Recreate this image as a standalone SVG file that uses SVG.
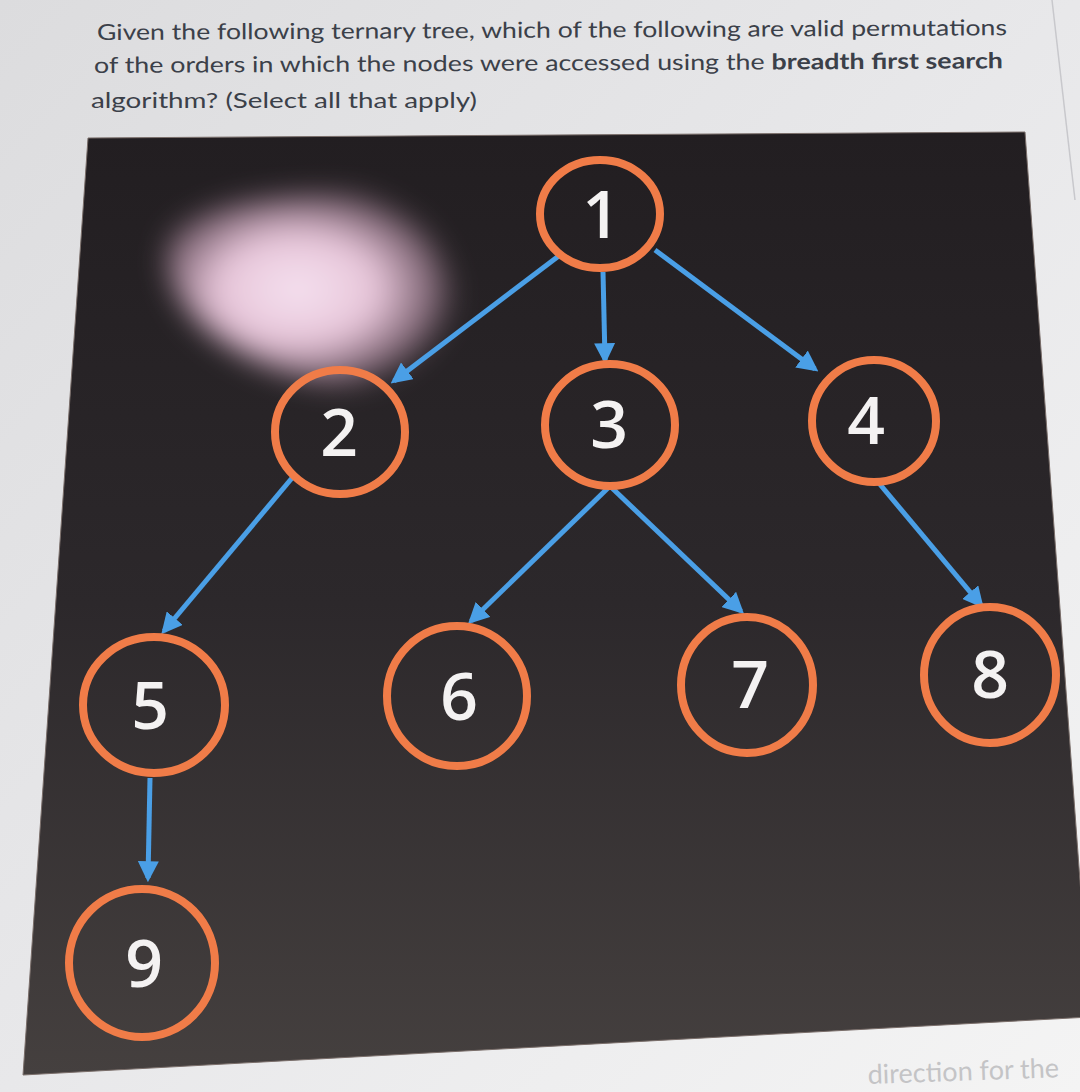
<svg xmlns="http://www.w3.org/2000/svg" width="1080" height="1092" viewBox="0 0 1080 1092">
<defs>
<linearGradient id="bg" x1="0" y1="0" x2="1" y2="1">
<stop offset="0" stop-color="#dcdcde"/><stop offset="0.5" stop-color="#e8e8ea"/><stop offset="1" stop-color="#f4f4f4"/>
</linearGradient>
<linearGradient id="panel" x1="0" y1="0" x2="0" y2="1">
<stop offset="0" stop-color="#221e21"/><stop offset="0.5" stop-color="#2c282b"/><stop offset="1" stop-color="#45403f"/>
</linearGradient>
<radialGradient id="glare" cx="0.45" cy="0.5" r="0.55">
<stop offset="0" stop-color="#f6e2f0"/><stop offset="0.5" stop-color="#e6c4d8"/><stop offset="0.85" stop-color="#b892a8" stop-opacity="0.6"/><stop offset="1" stop-color="#b892a8" stop-opacity="0"/>
</radialGradient>
<filter id="blur" x="-30%" y="-30%" width="160%" height="160%"><feGaussianBlur stdDeviation="14"/></filter>
<marker id="arr" viewBox="0 0 10 10" refX="8" refY="5" markerWidth="4.2" markerHeight="4.2" orient="auto-start-reverse">
<path d="M0,0 L10,5 L0,10 z" fill="#4a9fe6"/>
</marker>
<style>
.q{font-family:Lato,"Open Sans","Liberation Sans",sans-serif;font-size:22px;fill:#3b4049}
.b{font-weight:bold}
.ring{fill:none;stroke:#f07c48;stroke-width:8}
.lbl{font-family:"Open Sans","Noto Sans","Liberation Sans",sans-serif;font-size:66px;font-weight:600;fill:#f4f2f2;text-anchor:middle}
.edge{stroke:#4a9fe6;stroke-width:5;fill:none;marker-end:url(#arr)}
</style>
</defs>
<rect width="1080" height="1092" fill="url(#bg)"/>
<line x1="1052" y1="0" x2="1075" y2="200" stroke="#c8c8cc" stroke-width="1.5"/>
<g id="question">
<text class="q" x="97" y="40" textLength="910" lengthAdjust="spacingAndGlyphs" transform="rotate(-0.3 97 40)">Given the following ternary tree, which of the following are valid permutations</text>
<text class="q" x="94" y="73" textLength="909" lengthAdjust="spacingAndGlyphs" transform="rotate(-0.3 94 73)">of the orders in which the nodes were accessed using the <tspan class="b">breadth first search</tspan></text>
<text class="q" x="91" y="108" textLength="386" lengthAdjust="spacingAndGlyphs">algorithm? (Select all that apply)</text>
</g>
<polygon id="panel-bg" points="88,138 1025,132 1090,1017 23,1075" fill="url(#panel)" stroke="#7a6e6a" stroke-width="1"/>
<g filter="url(#blur)">
<path d="M170,235 Q200,195 360,192 Q410,192 440,250 Q470,310 450,355 Q420,395 330,385 Q250,370 200,325 Q155,280 170,235 Z" fill="url(#glare)"/>
</g>
<g id="connectors">
<line class="edge" x1="560" y1="255" x2="394" y2="381"/>
<line class="edge" x1="603" y1="272" x2="605" y2="360"/>
<line class="edge" x1="655" y1="250" x2="815" y2="369"/>
<line class="edge" x1="292" y1="478" x2="164" y2="631"/>
<line class="edge" x1="608" y1="488" x2="471" y2="621"/>
<line class="edge" x1="612" y1="488" x2="741" y2="611"/>
<line class="edge" x1="878" y1="482" x2="981" y2="605"/>
<line class="edge" x1="150" y1="778" x2="148" y2="878"/>
</g>
<g id="node1"><ellipse class="ring" cx="600" cy="214" rx="60" ry="54"/><text class="lbl" x="601" y="238">1</text></g>
<g id="node2"><ellipse class="ring" cx="340" cy="432" rx="65" ry="62"/><text class="lbl" x="339" y="456">2</text></g>
<g id="node3"><ellipse class="ring" cx="610" cy="425" rx="65" ry="61"/><text class="lbl" x="609" y="448">3</text></g>
<g id="node4"><ellipse class="ring" cx="874" cy="421" rx="62" ry="61"/><text class="lbl" x="866" y="444">4</text></g>
<g id="node5"><ellipse class="ring" cx="154" cy="705" rx="71" ry="68"/><text class="lbl" x="150" y="729">5</text></g>
<g id="node6"><ellipse class="ring" cx="457" cy="696" rx="70" ry="70"/><text class="lbl" x="459" y="720">6</text></g>
<g id="node7"><ellipse class="ring" cx="747" cy="685" rx="66" ry="68"/><text class="lbl" x="750" y="708">7</text></g>
<g id="node8"><ellipse class="ring" cx="990" cy="675" rx="66" ry="68"/><text class="lbl" x="990" y="698">8</text></g>
<g id="node9"><ellipse class="ring" cx="142" cy="963" rx="73" ry="74"/><text class="lbl" x="144" y="987">9</text></g>
<text x="868" y="1084" font-family="Lato,'Open Sans','Liberation Sans',sans-serif" font-size="27" fill="#c4c4c6" transform="rotate(-2 868 1084)">direction for the</text>
</svg>
